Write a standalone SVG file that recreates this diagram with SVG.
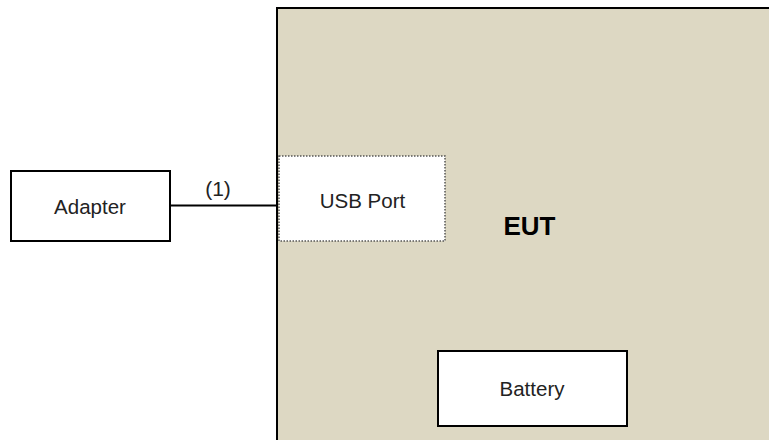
<svg xmlns="http://www.w3.org/2000/svg" width="769" height="440" viewBox="0 0 769 440">
<style>
text{font-family:"Liberation Sans",Arial,sans-serif;fill:#222;font-size:20.5px;text-anchor:middle}
.box{fill:#fff;stroke:#000;stroke-width:2}
.eut{font-size:26px;font-weight:bold;fill:#000}
.lbl{font-size:21px}
</style>
<rect width="769" height="440" fill="#fff"/>
<g id="eut">
<rect x="277" y="8" width="500" height="440" fill="#ddd8c3" stroke="#000" stroke-width="2"/>
<text class="eut" x="529.5" y="235">EUT</text>
</g>
<g id="usb">
<rect x="279" y="156" width="166" height="85" fill="#fff" stroke="#555" stroke-width="1.5" stroke-dasharray="1.5,1.5"/>
<text x="362.5" y="207.5">USB Port</text>
</g>
<g id="battery">
<rect class="box" x="438" y="351" width="189" height="75"/>
<text x="532" y="396">Battery</text>
</g>
<g id="adapter">
<rect class="box" x="11" y="171" width="159" height="70"/>
<text x="90" y="214">Adapter</text>
</g>
<g id="connectors">
<line x1="170" y1="205.5" x2="277" y2="205.5" stroke="#000" stroke-width="2"/>
<text class="lbl" x="218" y="196">(1)</text>
</g>
</svg>
